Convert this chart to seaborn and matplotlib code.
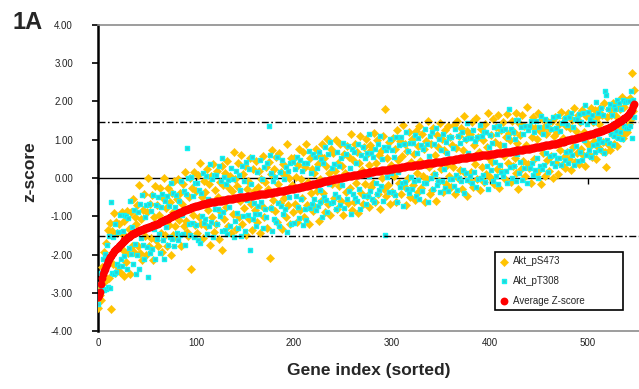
import numpy as np
import matplotlib
matplotlib.use("Agg")
import matplotlib.pyplot as plt
import seaborn as sns
from matplotlib.ticker import FormatStrFormatter

# ---------------------------
# Data (genes sorted by average z-score)
# ---------------------------

avg_z = [
    -3.10, -3.06, -2.97, -2.78, -2.62, -2.52, -2.44, -2.38, -2.31, -2.24, -2.16, -2.11, -2.07, -2.03, -1.99, -1.95, -1.92, -1.89, -1.86, -1.84,
    -1.82, -1.79, -1.76, -1.73, -1.70, -1.68, -1.66, -1.63, -1.61, -1.59, -1.57, -1.55, -1.53, -1.51, -1.49, -1.47, -1.46, -1.44, -1.43, -1.41,
    -1.40, -1.39, -1.38, -1.37, -1.36, -1.35, -1.34, -1.33, -1.32, -1.31, -1.30, -1.29, -1.28, -1.27, -1.26, -1.25, -1.24, -1.23, -1.22, -1.21,
    -1.20, -1.19, -1.17, -1.16, -1.15, -1.13, -1.12, -1.11, -1.09, -1.08, -1.07, -1.06, -1.04, -1.03, -1.02, -1.00, -0.99, -0.98, -0.97, -0.96,
    -0.95, -0.94, -0.92, -0.91, -0.90, -0.89, -0.88, -0.86, -0.85, -0.84, -0.83, -0.82, -0.81, -0.80, -0.79, -0.78, -0.77, -0.76, -0.75, -0.74,
    -0.74, -0.73, -0.72, -0.71, -0.71, -0.70, -0.69, -0.68, -0.67, -0.67, -0.66, -0.66, -0.65, -0.65, -0.64, -0.64, -0.63, -0.63, -0.62, -0.62,
    -0.61, -0.61, -0.60, -0.60, -0.60, -0.59, -0.59, -0.58, -0.58, -0.57, -0.57, -0.57, -0.56, -0.56, -0.55, -0.55, -0.55, -0.54, -0.54, -0.53,
    -0.53, -0.53, -0.52, -0.52, -0.51, -0.51, -0.51, -0.50, -0.50, -0.49, -0.49, -0.49, -0.48, -0.48, -0.47, -0.47, -0.47, -0.46, -0.46, -0.45,
    -0.45, -0.45, -0.44, -0.44, -0.43, -0.43, -0.43, -0.42, -0.42, -0.41, -0.41, -0.41, -0.40, -0.40, -0.39, -0.39, -0.39, -0.38, -0.38, -0.37,
    -0.37, -0.37, -0.36, -0.36, -0.35, -0.35, -0.35, -0.34, -0.34, -0.33, -0.33, -0.32, -0.32, -0.31, -0.31, -0.30, -0.30, -0.29, -0.29, -0.28,
    -0.28, -0.27, -0.27, -0.26, -0.26, -0.25, -0.24, -0.24, -0.23, -0.23, -0.22, -0.21, -0.21, -0.20, -0.20, -0.19, -0.18, -0.18, -0.17, -0.17,
    -0.16, -0.15, -0.15, -0.14, -0.14, -0.13, -0.12, -0.12, -0.11, -0.11, -0.10, -0.09, -0.09, -0.08, -0.08, -0.07, -0.06, -0.06, -0.05, -0.05,
    -0.04, -0.03, -0.03, -0.02, -0.02, -0.01, 0.00, 0.00, 0.01, 0.01, 0.02, 0.02, 0.03, 0.03, 0.04, 0.04, 0.05, 0.05, 0.06, 0.06,
    0.07, 0.07, 0.08, 0.08, 0.09, 0.09, 0.10, 0.10, 0.11, 0.11, 0.12, 0.12, 0.13, 0.13, 0.14, 0.14, 0.15, 0.15, 0.15, 0.16,
    0.16, 0.16, 0.17, 0.17, 0.18, 0.18, 0.18, 0.19, 0.19, 0.20, 0.20, 0.20, 0.21, 0.21, 0.22, 0.22, 0.22, 0.23, 0.23, 0.24,
    0.24, 0.24, 0.25, 0.25, 0.26, 0.26, 0.26, 0.27, 0.27, 0.28, 0.28, 0.28, 0.29, 0.29, 0.30, 0.30, 0.30, 0.31, 0.31, 0.32,
    0.32, 0.32, 0.33, 0.33, 0.33, 0.34, 0.34, 0.34, 0.35, 0.35, 0.35, 0.36, 0.36, 0.37, 0.37, 0.37, 0.38, 0.38, 0.38, 0.39,
    0.39, 0.39, 0.40, 0.40, 0.41, 0.41, 0.41, 0.42, 0.42, 0.43, 0.43, 0.43, 0.44, 0.44, 0.45, 0.45, 0.45, 0.46, 0.46, 0.47,
    0.47, 0.47, 0.48, 0.48, 0.49, 0.49, 0.49, 0.50, 0.50, 0.51, 0.51, 0.51, 0.52, 0.52, 0.53, 0.53, 0.53, 0.54, 0.54, 0.55,
    0.55, 0.55, 0.56, 0.56, 0.56, 0.57, 0.57, 0.57, 0.58, 0.58, 0.58, 0.59, 0.59, 0.59, 0.60, 0.60, 0.60, 0.61, 0.61, 0.61,
    0.62, 0.62, 0.62, 0.63, 0.63, 0.63, 0.64, 0.64, 0.64, 0.65, 0.65, 0.65, 0.66, 0.66, 0.67, 0.67, 0.67, 0.68, 0.68, 0.68,
    0.69, 0.69, 0.70, 0.70, 0.70, 0.71, 0.71, 0.72, 0.72, 0.72, 0.73, 0.73, 0.74, 0.74, 0.74, 0.75, 0.75, 0.76, 0.76, 0.76,
    0.77, 0.77, 0.78, 0.78, 0.79, 0.79, 0.80, 0.80, 0.81, 0.81, 0.82, 0.82, 0.83, 0.83, 0.84, 0.84, 0.85, 0.85, 0.86, 0.86,
    0.87, 0.87, 0.88, 0.88, 0.89, 0.89, 0.90, 0.90, 0.91, 0.91, 0.92, 0.93, 0.93, 0.94, 0.95, 0.95, 0.96, 0.97, 0.97, 0.98,
    0.99, 0.99, 1.00, 1.01, 1.01, 1.02, 1.03, 1.03, 1.04, 1.05, 1.05, 1.06, 1.07, 1.07, 1.08, 1.09, 1.09, 1.10, 1.11, 1.11,
    1.12, 1.13, 1.14, 1.14, 1.15, 1.16, 1.17, 1.18, 1.19, 1.19, 1.20, 1.21, 1.22, 1.23, 1.24, 1.25, 1.26, 1.27, 1.28, 1.29,
    1.30, 1.31, 1.32, 1.34, 1.35, 1.36, 1.38, 1.39, 1.41, 1.42, 1.43, 1.45, 1.47, 1.49, 1.50, 1.52, 1.54, 1.56, 1.58, 1.60,
    1.62, 1.65, 1.68, 1.72, 1.76, 1.81, 1.87, 1.93,
]

akt_ps473 = [
    -3.40, -2.86, -3.07, -3.18, -2.32, -2.72, -1.94, -2.68, -1.71, -2.64, -1.36, -2.61, -1.17, -3.43, -1.39, -2.25, -0.92, -2.49, -1.16, -1.44,
    -2.32, -1.19, -2.46, -1.43, -0.90, -1.88, -2.56, -1.13, -1.51, -2.19, -0.87, -1.95, -1.33, -2.51, -0.89, -1.77, -0.56, -1.94, -1.03, -1.21,
    -0.70, -1.79, -0.18, -1.97, -1.06, -2.15, -0.84, -0.43, -1.52, -2.01, -0.90, 0.01, -1.78, -0.67, -1.56, -0.45, -2.14, -1.03, -0.22, -1.61,
    -0.70, -1.79, -0.97, -0.26, -1.45, -1.93, -0.52, -0.01, -1.49, -0.78, -1.77, -0.26, -1.24, -0.63, -2.02, -0.40, -0.89, -1.48, -0.07, -1.26,
    -1.55, -0.54, -0.02, -1.11, -0.40, -1.79, -0.68, -0.16, -1.25, 0.16, -1.13, -1.42, -1.51, -0.50, 0.01, -2.38, -0.27, -0.96, 0.15, -1.24,
    -0.34, -1.43, 0.08, -1.01, 0.39, -1.20, -0.49, -1.58, -0.07, -0.37, -1.26, 0.24, -0.85, -0.15, -1.74, 0.06, -1.03, 0.37, -1.42, -0.32,
    -1.21, 0.19, -0.50, -1.60, -0.10, -0.89, 0.31, -1.88, -0.18, -1.07, 0.13, -0.77, 0.44, -1.26, -0.25, 0.05, -1.45, -0.34, -0.94, 0.67,
    -0.03, -1.33, -0.22, 0.38, -1.01, -0.61, 0.59, -1.20, 0.10, -0.79, 0.31, -1.49, -0.28, -0.08, -1.07, 0.53, -0.67, -1.36, 0.24, -0.35,
    -0.85, 0.45, -1.14, -0.24, 0.17, -1.43, -0.03, -0.72, 0.58, -1.01, -0.11, 0.29, -1.30, -0.30, 0.41, -2.09, 0.11, -0.78, 0.72, -0.57,
    0.23, -0.87, 0.54, -1.16, -0.15, 0.65, -0.65, 0.16, -1.34, 0.37, -0.53, 0.08, -1.02, 0.89, -0.71, 0.00, -1.20, 0.51, -0.19, -0.88,
    0.52, -0.67, 0.03, -1.16, 0.34, 0.75, -0.84, -0.04, -0.53, 0.67, -1.02, 0.29, 0.89, -0.70, -0.10, -1.19, 0.52, -0.38, 0.23, -0.87,
    0.14, -0.75, 0.75, -0.34, 0.36, -1.13, 0.58, -0.02, -0.61, 0.89, -0.40, 0.51, -0.89, 0.32, 1.02, -0.67, 0.14, -0.96, 0.75, -0.15,
    0.66, -0.53, 0.17, 0.98, -0.82, 0.39, -0.20, 0.90, -0.59, 0.31, -0.98, 0.62, 0.13, -0.37, 0.84, -0.66, 0.55, -0.25, 1.16, -0.84,
    0.47, -0.63, 0.88, -0.12, 0.69, -0.91, 0.40, 1.10, -0.39, 0.21, -0.68, 0.82, -0.17, 1.03, -0.46, 0.64, 0.35, -0.75, 0.85, -0.24,
    0.76, -0.14, 1.17, -0.63, 0.38, 0.98, -0.42, 0.59, -0.81, 0.70, 0.00, 1.10, -0.29, 1.81, -0.48, 0.52, -0.18, 0.93, -0.67, 0.34,
    -0.36, 1.04, 0.05, 0.75, -0.64, 1.26, 0.46, -0.13, 0.97, -0.42, 0.58, 1.38, -0.21, 0.89, -0.70, 0.70, 0.00, 1.21, -0.49, 0.42,
    1.02, -0.18, 0.63, -0.57, 1.23, 0.14, 0.84, -0.36, 1.35, 0.45, -0.25, 1.16, 0.06, 0.77, -0.63, 0.97, -0.02, 1.48, 0.28, -0.41,
    0.89, -0.31, 1.30, 0.10, 0.61, -0.59, 1.11, 0.82, -0.08, 1.43, 0.23, 1.03, -0.36, 0.74, 1.25, -0.15, 0.35, 1.36, 0.06, 1.07,
    -0.23, 0.87, 0.28, 1.38, -0.41, 0.79, 1.49, 0.00, 1.10, 0.21, 1.31, -0.29, 0.72, 1.62, 0.13, 1.03, -0.47, 1.24, 0.54, -0.05,
    1.15, 0.15, 1.46, -0.24, 0.86, 0.37, 1.57, -0.03, 1.08, 0.68, -0.32, 1.29, 0.29, 0.99, -0.10, 1.40, 0.10, 0.81, 1.71, 0.51,
    0.02, 1.12, 0.42, 1.53, -0.17, 0.93, 1.34, 0.24, 1.64, -0.25, 0.85, 1.25, 0.16, 1.46, 0.57, -0.03, 1.07, 1.68, 0.38, 1.18,
    0.99, -0.11, 1.50, 0.30, 1.20, 0.51, 1.71, 0.12, 0.92, -0.28, 1.43, 1.13, 0.24, 1.64, 0.44, 1.35, 0.05, 0.86, 1.86, 0.36,
    0.27, 1.37, -0.12, 1.08, 1.59, 0.49, 1.30, 0.10, 1.01, 1.71, 0.22, 1.22, -0.17, 1.53, 0.64, 1.34, 0.05, 1.15, 0.46, 1.46,
    0.17, 1.27, 0.58, 1.48, -0.01, 1.09, 1.60, 0.40, 1.21, 0.11, 1.42, 0.73, 1.73, 0.34, 1.05, 0.55, 1.56, 0.27, 1.37, 0.68,
    1.69, 0.49, 1.30, 0.21, 1.51, 0.82, 1.83, 0.43, 1.24, 0.65, 1.65, 0.36, 1.47, 0.77, 1.78, 0.59, 1.19, 0.30, 1.61, 0.91,
    0.62, 1.63, 0.84, 1.84, 0.55, 1.46, 0.97, 1.78, 0.49, 1.59, 0.80, 1.41, 1.82, 0.73, 1.64, 0.95, 1.96, 0.67, 0.28, 1.59,
    0.90, 1.81, 0.72, 1.64, 1.15, 1.96, 0.88, 1.79, 1.11, 1.62, 0.83, 1.95, 1.07, 1.79, 1.30, 2.12, 1.04, 1.86, 1.18, 2.00,
    1.20, 2.05, 1.40, 2.10, 1.55, 2.75, 1.75, 2.30,
]

akt_pt308 = [
    -3.30, -2.96, -2.77, -2.48, -2.92, -2.12, -2.94, -1.98, -2.91, -1.74, -2.86, -1.51, -2.87, -0.63, -2.49, -1.55, -2.52, -1.19, -2.46, -2.24,
    -1.42, -2.29, -0.96, -2.13, -2.30, -1.38, -0.96, -2.03, -1.61, -0.99, -2.37, -1.05, -1.83, -0.61, -1.99, -1.27, -2.26, -0.84, -1.73, -2.51,
    -2.00, -0.89, -2.38, -0.67, -1.56, -0.45, -1.74, -2.13, -1.02, -0.71, -1.80, -2.59, -0.68, -1.97, -0.86, -1.85, -0.44, -1.33, -2.12, -0.71,
    -1.60, -0.49, -1.47, -1.96, -0.75, -0.43, -1.62, -2.11, -0.59, -1.28, -0.47, -1.76, -0.74, -1.53, -0.12, -1.60, -0.99, -0.38, -1.77, -0.76,
    -0.45, -1.44, -1.62, -0.61, -1.50, -0.09, -0.98, -1.46, -0.35, -1.74, -0.43, 0.78, -0.01, -1.20, -1.49, 0.02, -1.17, -0.46, -1.55, -0.14,
    -1.24, -0.13, -1.62, -0.31, -1.71, -0.40, -0.99, 0.12, -1.17, -1.07, 0.04, -1.46, -0.55, -1.25, 0.36, -1.14, -0.03, -1.53, 0.08, -0.82,
    0.09, -1.21, -0.80, 0.30, -1.00, -0.09, -1.39, 0.52, -0.88, 0.03, -1.37, -0.17, -1.46, -0.06, -0.75, -1.25, 0.25, -0.54, -0.04, -1.53,
    -1.13, 0.17, -0.92, -1.32, 0.09, -0.31, -1.51, 0.30, -1.00, -0.09, -1.39, 0.41, -0.58, -0.98, 0.23, -1.87, -0.17, 0.54, -1.06, -0.65,
    -0.95, -1.25, 0.16, -0.74, -0.93, 0.47, -0.63, -0.02, -1.32, 0.29, -0.81, -1.01, 0.40, -0.40, 1.37, 0.61, -0.79, 0.12, -1.38, -0.07,
    -1.07, 0.03, -1.16, 0.54, -0.65, -1.25, 0.15, -0.74, 0.46, -0.93, -0.03, -0.82, 0.28, -1.41, 0.19, -0.50, 0.40, -1.19, -0.29, 0.42,
    -1.18, 0.23, -0.47, 0.54, -0.76, -1.05, 0.46, -0.54, 0.17, -1.23, 0.38, -0.81, -1.11, 0.40, -0.20, 0.71, -0.78, 0.12, -0.67, 0.63,
    -0.56, 0.55, -0.85, 0.26, -0.74, 0.67, -0.62, -0.32, 0.49, -1.01, 0.40, -0.49, 0.81, -0.58, -0.88, 0.63, -0.16, 0.94, -0.65, 0.25,
    -0.64, 0.37, -0.43, -0.82, 0.68, -0.51, 0.30, -0.70, 0.51, -0.19, 0.92, -0.78, 0.03, 0.63, -0.56, 0.84, -0.35, 0.25, -0.94, 0.76,
    -0.43, 0.67, -0.52, 0.38, -0.61, 0.89, -0.30, -0.80, 0.61, 0.11, 0.82, -0.48, 0.53, -0.67, 0.64, -0.46, 0.05, 1.15, -0.35, 0.66,
    -0.54, 0.56, -0.63, 0.77, -0.12, -0.42, 0.88, -0.31, 1.09, -0.20, 0.50, -0.60, 0.81, -1.49, 0.72, 0.02, 0.82, -0.37, 1.03, 0.14,
    0.74, -0.36, 0.55, -0.45, 1.06, -0.64, 0.16, 0.87, -0.23, 1.08, -0.12, -0.72, 0.89, -0.11, 1.20, -0.30, 0.70, -0.39, 0.91, 0.02,
    -0.28, 0.92, -0.07, 1.13, -0.47, 0.64, -0.06, 1.04, -0.55, 0.35, 0.85, -0.34, 0.76, -0.13, 1.27, -0.13, 0.88, -0.62, 0.58, 1.09,
    -0.01, 1.19, -0.30, 0.90, 0.11, 1.31, -0.19, -0.08, 1.02, -0.37, 0.73, -0.07, 1.14, 0.24, -0.25, 0.95, 0.65, -0.34, 1.06, -0.03,
    1.07, -0.03, 0.78, -0.22, 1.29, 0.09, -0.31, 1.10, 0.00, 0.91, -0.09, 1.21, 0.22, -0.38, 1.03, 0.13, 1.43, -0.06, 0.64, 1.05,
    0.05, 1.05, -0.14, 1.26, 0.16, 0.97, -0.23, 1.07, -0.02, 0.58, 1.38, -0.01, 1.09, 0.09, 1.20, -0.10, 1.20, 0.31, -0.29, 0.81,
    1.12, 0.22, 0.92, -0.07, 1.33, 0.43, 0.04, 1.14, -0.16, 1.35, 0.35, 0.15, 1.26, 0.06, 0.87, 1.27, 0.17, -0.12, 1.08, 1.80,
    0.29, 1.29, 0.00, 1.20, 0.30, 1.01, -0.09, 1.52, 0.62, 1.52, 0.13, 0.43, 1.34, -0.06, 1.14, 0.25, 1.35, 0.76, -0.14, 1.26,
    1.37, 0.27, 1.48, 0.38, 0.09, 1.19, 0.20, 1.50, 0.51, 0.01, 1.32, 0.32, 1.63, 0.23, 1.14, 0.34, 1.55, 0.65, 1.36, 0.16,
    1.47, 0.57, 1.28, 0.38, 1.59, 0.59, 0.30, 1.30, 0.51, 1.61, 0.52, 1.23, 0.33, 1.44, 0.95, 1.45, 0.46, 1.57, 0.67, 1.38,
    0.39, 1.59, 0.70, 1.71, 0.61, 1.32, 0.33, 1.53, 0.84, 1.55, 0.45, 1.66, 0.67, 1.47, 0.48, 1.69, 0.99, 1.90, 0.61, 1.41,
    1.72, 0.73, 1.54, 0.54, 1.65, 0.86, 1.47, 0.68, 1.99, 0.89, 1.70, 1.01, 0.72, 1.83, 0.94, 1.65, 0.66, 2.27, 2.18, 0.99,
    1.80, 0.91, 1.92, 1.14, 1.65, 0.86, 1.88, 1.09, 1.81, 1.22, 2.03, 1.05, 1.97, 1.19, 1.80, 1.02, 2.04, 1.36, 1.98, 1.30,
    2.02, 1.30, 2.00, 1.35, 2.26, 1.05, 2.05, 1.60,
]

upper_cut = 1.46
lower_cut = -1.51
x_ticks = [0, 100, 200, 300, 400, 500]
y_ticks = [-4, -3, -2, -1, 0, 1, 2, 3, 4]

# ---------------------------
# Plot
# ---------------------------

sns.set_theme(style="ticks")
plt.rcParams['font.family'] = ['Liberation Sans', 'DejaVu Sans']
plt.rcParams['axes.unicode_minus'] = False

fig = plt.figure(figsize=(6.39, 3.89), dpi=100)
ax = fig.add_axes([0.1534, 0.149, 0.8466, 0.787])

sns.scatterplot(x=np.arange(len(akt_ps473)), y=akt_ps473, ax=ax, marker='D', s=18,
                color='#FFC400', edgecolor='#FFBE00', linewidth=0.3, label='Akt_pS473', zorder=3)
sns.scatterplot(x=np.arange(len(akt_pt308)), y=akt_pt308, ax=ax, marker='s', s=11,
                color='#33CCCC', edgecolor='#10F4F4', linewidth=1.0, label='Akt_pT308', zorder=4)
sns.scatterplot(x=np.arange(len(avg_z)), y=avg_z, ax=ax, marker='o', s=32,
                color='#FF0000', edgecolor='#FF0000', linewidth=0, label='Average Z-score', zorder=6)

# dash-dot cut-off lines
for yv in (upper_cut, lower_cut):
    ax.axhline(yv, color='black', lw=1.0, linestyle=(0, (5, 1.8, 1.2, 1.8)), zorder=5)

ax.set_xlim(0, 552)
ax.set_ylim(-4, 4)
ax.set_xticks(x_ticks)
ax.set_yticks(y_ticks)
ax.yaxis.set_major_formatter(FormatStrFormatter('%.2f'))

# Excel-like axes: x axis crosses at 0, plot border at top/bottom
ax.spines['bottom'].set_position(('data', 0))
ax.spines['bottom'].set_color('black')
ax.spines['bottom'].set_linewidth(1.0)
ax.spines['bottom'].set_zorder(1)
ax.spines['left'].set_color('black')
ax.spines['left'].set_linewidth(1.8)
ax.spines['top'].set_color('#8c8c8c')
ax.spines['top'].set_linewidth(1.2)
ax.spines['right'].set_visible(False)
ax.axhline(-4, color='#8c8c8c', lw=1.2, clip_on=False, zorder=1)

ax.tick_params(axis='x', direction='out', length=4, width=1, color='black',
               pad=111, labelsize=7, labelcolor='#222222')
ax.tick_params(axis='y', direction='out', length=4, width=1.2, color='black',
               pad=14, labelsize=7, labelcolor='#222222')

ax.set_xlabel('Gene index (sorted)', fontsize=12.5, fontweight='bold')
ax.xaxis.set_label_coords(0.5, -0.105)
ax.set_ylabel('z-score', fontsize=12.5, fontweight='bold')
ax.yaxis.set_label_coords(-0.113, 0.52)

fig.text(0.019, 0.972, '1A', fontsize=17, fontweight='bold', ha='left', va='top')

leg = ax.legend(loc='lower left', bbox_to_anchor=(0.734, 0.0686, 0.2366, 0.2), mode='expand',
                borderaxespad=0, fontsize=7, labelspacing=1.0, handletextpad=0.4, borderpad=0.45,
                handlelength=1.0, fancybox=False, framealpha=1, edgecolor='black')
leg.get_frame().set_linewidth(1.2)

plt.savefig('out.png', dpi=100)
